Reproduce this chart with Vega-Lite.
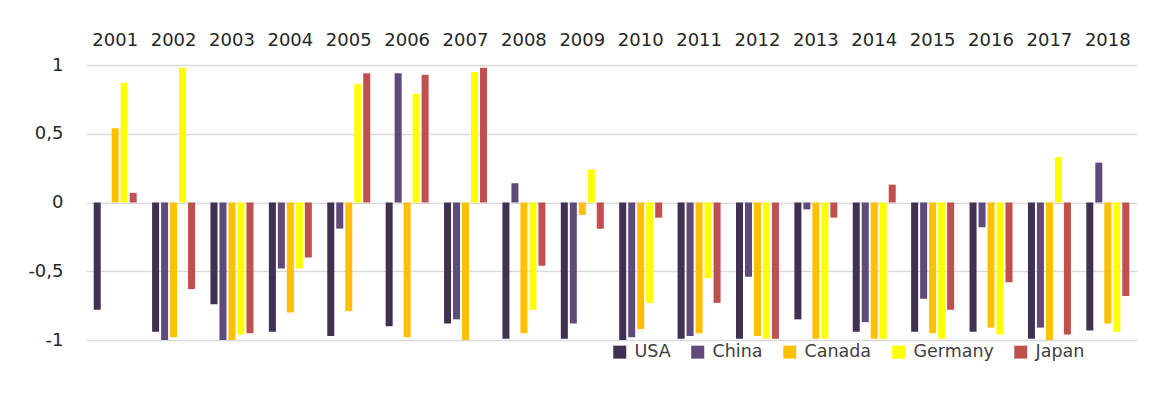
{
  "$schema": "https://vega.github.io/schema/vega-lite/v6.json",
  "autosize": {"type": "none"},
  "padding": {"left": 86, "top": 65, "right": 15, "bottom": 68},
  "width": 1051,
  "height": 275,
  "background": "white",
  "config": {
    "view": {"stroke": null},
    "font": "DejaVu Sans",
    "axis": {"labelFont": "DejaVu Sans", "labelColor": "#262626"},
    "legend": {"labelFont": "DejaVu Sans"}
  },
  "data": {
    "values": [
      {"year": "2001", "country": "USA", "value": -0.78},
      {"year": "2001", "country": "China", "value": 0},
      {"year": "2001", "country": "Canada", "value": 0.54},
      {"year": "2001", "country": "Germany", "value": 0.87},
      {"year": "2001", "country": "Japan", "value": 0.07},
      {"year": "2002", "country": "USA", "value": -0.94},
      {"year": "2002", "country": "China", "value": -1.0},
      {"year": "2002", "country": "Canada", "value": -0.98},
      {"year": "2002", "country": "Germany", "value": 0.98},
      {"year": "2002", "country": "Japan", "value": -0.63},
      {"year": "2003", "country": "USA", "value": -0.74},
      {"year": "2003", "country": "China", "value": -1.0},
      {"year": "2003", "country": "Canada", "value": -1.0},
      {"year": "2003", "country": "Germany", "value": -0.96},
      {"year": "2003", "country": "Japan", "value": -0.95},
      {"year": "2004", "country": "USA", "value": -0.94},
      {"year": "2004", "country": "China", "value": -0.48},
      {"year": "2004", "country": "Canada", "value": -0.8},
      {"year": "2004", "country": "Germany", "value": -0.48},
      {"year": "2004", "country": "Japan", "value": -0.4},
      {"year": "2005", "country": "USA", "value": -0.97},
      {"year": "2005", "country": "China", "value": -0.19},
      {"year": "2005", "country": "Canada", "value": -0.79},
      {"year": "2005", "country": "Germany", "value": 0.86},
      {"year": "2005", "country": "Japan", "value": 0.94},
      {"year": "2006", "country": "USA", "value": -0.9},
      {"year": "2006", "country": "China", "value": 0.94},
      {"year": "2006", "country": "Canada", "value": -0.98},
      {"year": "2006", "country": "Germany", "value": 0.79},
      {"year": "2006", "country": "Japan", "value": 0.93},
      {"year": "2007", "country": "USA", "value": -0.88},
      {"year": "2007", "country": "China", "value": -0.85},
      {"year": "2007", "country": "Canada", "value": -1.0},
      {"year": "2007", "country": "Germany", "value": 0.95},
      {"year": "2007", "country": "Japan", "value": 0.98},
      {"year": "2008", "country": "USA", "value": -0.99},
      {"year": "2008", "country": "China", "value": 0.14},
      {"year": "2008", "country": "Canada", "value": -0.95},
      {"year": "2008", "country": "Germany", "value": -0.78},
      {"year": "2008", "country": "Japan", "value": -0.46},
      {"year": "2009", "country": "USA", "value": -0.99},
      {"year": "2009", "country": "China", "value": -0.88},
      {"year": "2009", "country": "Canada", "value": -0.09},
      {"year": "2009", "country": "Germany", "value": 0.24},
      {"year": "2009", "country": "Japan", "value": -0.19},
      {"year": "2010", "country": "USA", "value": -1.0},
      {"year": "2010", "country": "China", "value": -0.98},
      {"year": "2010", "country": "Canada", "value": -0.92},
      {"year": "2010", "country": "Germany", "value": -0.73},
      {"year": "2010", "country": "Japan", "value": -0.11},
      {"year": "2011", "country": "USA", "value": -0.99},
      {"year": "2011", "country": "China", "value": -0.97},
      {"year": "2011", "country": "Canada", "value": -0.95},
      {"year": "2011", "country": "Germany", "value": -0.55},
      {"year": "2011", "country": "Japan", "value": -0.73},
      {"year": "2012", "country": "USA", "value": -0.99},
      {"year": "2012", "country": "China", "value": -0.54},
      {"year": "2012", "country": "Canada", "value": -0.97},
      {"year": "2012", "country": "Germany", "value": -0.99},
      {"year": "2012", "country": "Japan", "value": -0.99},
      {"year": "2013", "country": "USA", "value": -0.85},
      {"year": "2013", "country": "China", "value": -0.05},
      {"year": "2013", "country": "Canada", "value": -0.99},
      {"year": "2013", "country": "Germany", "value": -0.99},
      {"year": "2013", "country": "Japan", "value": -0.11},
      {"year": "2014", "country": "USA", "value": -0.94},
      {"year": "2014", "country": "China", "value": -0.87},
      {"year": "2014", "country": "Canada", "value": -0.99},
      {"year": "2014", "country": "Germany", "value": -0.99},
      {"year": "2014", "country": "Japan", "value": 0.13},
      {"year": "2015", "country": "USA", "value": -0.94},
      {"year": "2015", "country": "China", "value": -0.7},
      {"year": "2015", "country": "Canada", "value": -0.95},
      {"year": "2015", "country": "Germany", "value": -0.99},
      {"year": "2015", "country": "Japan", "value": -0.78},
      {"year": "2016", "country": "USA", "value": -0.94},
      {"year": "2016", "country": "China", "value": -0.18},
      {"year": "2016", "country": "Canada", "value": -0.91},
      {"year": "2016", "country": "Germany", "value": -0.96},
      {"year": "2016", "country": "Japan", "value": -0.58},
      {"year": "2017", "country": "USA", "value": -0.99},
      {"year": "2017", "country": "China", "value": -0.91},
      {"year": "2017", "country": "Canada", "value": -1.0},
      {"year": "2017", "country": "Germany", "value": 0.33},
      {"year": "2017", "country": "Japan", "value": -0.96},
      {"year": "2018", "country": "USA", "value": -0.93},
      {"year": "2018", "country": "China", "value": 0.29},
      {"year": "2018", "country": "Canada", "value": -0.88},
      {"year": "2018", "country": "Germany", "value": -0.94},
      {"year": "2018", "country": "Japan", "value": -0.68}
    ]
  },
  "mark": {"type": "bar"},
  "encoding": {
    "x": {
      "field": "year",
      "type": "nominal",
      "scale": {"paddingInner": 0.23, "paddingOuter": 0.115},
      "axis": {
        "orient": "top",
        "title": null,
        "labelAngle": 0,
        "ticks": false,
        "domain": false,
        "labelFontSize": 18,
        "labelPadding": 16
      }
    },
    "xOffset": {
      "field": "country",
      "type": "nominal",
      "sort": ["USA", "China", "Canada", "Germany", "Japan"],
      "scale": {"paddingInner": 0.22, "paddingOuter": 0.11}
    },
    "y": {
      "field": "value",
      "type": "quantitative",
      "scale": {"domain": [-1, 1], "nice": false, "zero": true},
      "axis": {
        "title": null,
        "values": [-1, -0.5, 0, 0.5, 1],
        "ticks": false,
        "domain": false,
        "grid": true,
        "gridColor": "#D9D9D9",
        "gridWidth": 1.5,
        "labelFontSize": 18,
        "labelPadding": 23,
        "labelExpr": "replace(replace(format(datum.value, '~g'), '.', ','), '\u2212', '-')"
      }
    },
    "color": {
      "field": "country",
      "type": "nominal",
      "sort": ["USA", "China", "Canada", "Germany", "Japan"],
      "scale": {
        "domain": ["USA", "China", "Canada", "Germany", "Japan"],
        "range": ["#403151", "#604A7B", "#FFC000", "#FFFF00", "#C0504D"]
      },
      "legend": {
        "title": null,
        "orient": "none",
        "direction": "horizontal",
        "legendX": 525,
        "legendY": 278,
        "symbolType": "square",
        "symbolSize": 169,
        "symbolStrokeWidth": 0,
        "labelFontSize": 17.5,
        "labelColor": "#404040",
        "labelOffset": 6,
        "columnPadding": 18
      }
    }
  }
}
